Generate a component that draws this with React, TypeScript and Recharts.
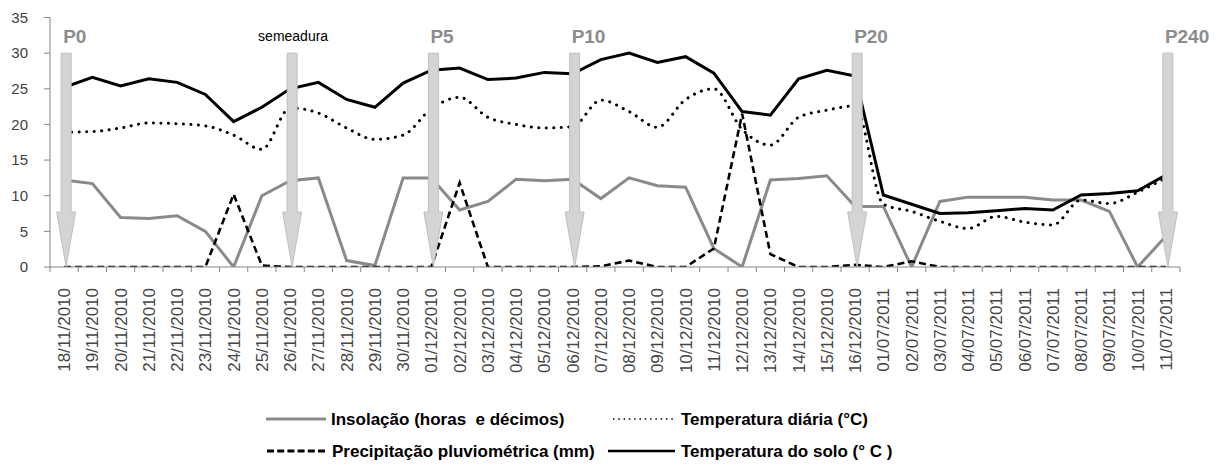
import React from 'react';
import { LineChart, Line, XAxis, YAxis, ReferenceLine } from 'recharts';

const dates = [
  '18/11/2010', '19/11/2010', '20/11/2010', '21/11/2010', '22/11/2010', '23/11/2010', '24/11/2010',
  '25/11/2010', '26/11/2010', '27/11/2010', '28/11/2010', '29/11/2010', '30/11/2010',
  '01/12/2010', '02/12/2010', '03/12/2010', '04/12/2010', '05/12/2010', '06/12/2010', '07/12/2010',
  '08/12/2010', '09/12/2010', '10/12/2010', '11/12/2010', '12/12/2010', '13/12/2010', '14/12/2010',
  '15/12/2010', '16/12/2010',
  '01/07/2011', '02/07/2011', '03/07/2011', '04/07/2011', '05/07/2011', '06/07/2011', '07/07/2011',
  '08/07/2011', '09/07/2011', '10/07/2011', '11/07/2011',
];

const insolacao = [
  12.2, 11.7, 6.95, 6.8, 7.2, 5.0, 0, 10.0, 12.1, 12.5, 0.9, 0.2, 12.5,
  12.5, 8.0, 9.2, 12.3, 12.1, 12.3, 9.6, 12.5, 11.4, 11.2, 2.6, 0, 12.2, 12.4, 12.8, 8.5,
  8.5, 0, 9.2, 9.8, 9.8, 9.8, 9.4, 9.4, 7.8, 0, 4.3,
];

const precipitacao = [
  0, 0, 0, 0, 0, 0, 10.2, 0.2, 0, 0, 0, 0, 0,
  0, 11.8, 0, 0, 0, 0, 0.1, 0.9, 0, 0, 2.6, 21.5, 1.8, 0, 0, 0.3,
  0, 0.8, 0, 0, 0, 0, 0, 0, 0, 0, 0,
];

const tempDiaria = [
  18.9, 19.0, 19.5, 20.2, 20.1, 19.8, 18.5, 16.5, 22.3, 21.6, 19.5, 17.9, 18.5,
  22.2, 23.8, 21.0, 20.0, 19.5, 19.7, 23.4, 21.8, 19.6, 23.5, 25.0, 19.3, 17.1, 21.0, 22.0, 22.6,
  8.8, 7.8, 6.4, 5.4, 7.1, 6.3, 5.9, 9.4, 8.9, 10.5, 12.5,
];

const tempSolo = [
  25.2, 26.6, 25.4, 26.4, 25.9, 24.2, 20.4, 22.4, 25.0, 25.9, 23.5, 22.4, 25.8,
  27.6, 27.9, 26.3, 26.5, 27.3, 27.1, 29.1, 30.0, 28.7, 29.5, 27.2, 21.8, 21.3, 26.4, 27.6, 26.8,
  10.1, 8.8, 7.5, 7.6, 7.9, 8.2, 8.0, 10.1, 10.3, 10.7, 12.9,
];

const yTicks = [0, 5, 10, 15, 20, 25, 30, 35];

const markers = [
  { date: '18/11/2010', label: 'P0', kind: 'phase' },
  { date: '26/11/2010', label: 'semeadura', kind: 'note' },
  { date: '01/12/2010', label: 'P5', kind: 'phase' },
  { date: '06/12/2010', label: 'P10', kind: 'phase' },
  { date: '16/12/2010', label: 'P20', kind: 'phase' },
  { date: '11/07/2011', label: 'P240', kind: 'phase' },
];
const arrowTopValue = 30;

const legendLabels = {
  insolacao: 'Insolação (horas  e décimos)',
  tempDiaria: 'Temperatura diária (°C)',
  precipitacao: 'Precipitação pluviométrica (mm)',
  tempSolo: 'Temperatura do solo (° C )',
};

const data = dates.map((d, i) => ({
  date: d,
  insolacao: insolacao[i],
  precipitacao: precipitacao[i],
  tempDiaria: tempDiaria[i],
  tempSolo: tempSolo[i],
}));

const W = 1217;
const H = 466;
const PLOT_LEFT = 50;
const PLOT_RIGHT = 1180;
const PLOT_TOP = 17.5;
const PLOT_BOTTOM = 267;
const BAND = (PLOT_RIGHT - PLOT_LEFT) / dates.length;
const FONT = '"Liberation Sans", Arial, Helvetica, sans-serif';
const AXIS = '#868686';

const XTick = (props: any) => {
  const { x, payload, index } = props;
  const ty = PLOT_BOTTOM + 21;
  return (
    <g>
      <line x1={x - BAND / 2} x2={x - BAND / 2} y1={PLOT_BOTTOM} y2={PLOT_BOTTOM + 5} stroke={AXIS} strokeWidth={1} />
      {index === dates.length - 1 ? (
        <line x1={x + BAND / 2} x2={x + BAND / 2} y1={PLOT_BOTTOM} y2={PLOT_BOTTOM + 5} stroke={AXIS} strokeWidth={1} />
      ) : null}
      <text
        x={x}
        y={ty}
        dy="0.36em"
        transform={`rotate(-90 ${x} ${ty})`}
        textAnchor="end"
        fontSize={17}
        fontFamily={FONT}
        fill="#454545"
      >
        {payload.value}
      </text>
    </g>
  );
};

const makeArrow = (label: string, kind: string) => (p: any) => {
  const cx = (p.x1 ?? 0) + 2;
  const top = Math.min(p.y1, p.y2);
  const tip = Math.max(p.y1, p.y2);
  const headStart = tip - 55;
  const sw = 5;
  const hw = 9.5;
  const d = `M${cx - sw},${top} L${cx + sw},${top} L${cx + sw},${headStart} L${cx + hw},${headStart} L${cx},${tip} L${cx - hw},${headStart} L${cx - sw},${headStart} Z`;
  return (
    <g>
      <path d={d} fill="#d4d4d4" stroke="#bfbfbf" strokeWidth={1} />
      {kind === 'phase' ? (
        <text x={cx - 3} y={top - 10} fontSize={19} fontWeight="bold" fontFamily={FONT} fill="#8c8c8c" textAnchor="start">
          {label}
        </text>
      ) : (
        <text x={cx + 1} y={top - 12} fontSize={14} fontFamily={FONT} fill="#000" textAnchor="middle">
          {label}
        </text>
      )}
    </g>
  );
};

const Legend2 = () => {
  const r1 = 419;
  const r2 = 451;
  const ts = { fontSize: 17, fontWeight: 'bold' as const, fontFamily: FONT, fill: '#000', style: { whiteSpace: 'pre' as const } };
  return (
    <svg width={W} height={H} style={{ position: 'absolute', left: 0, top: 0, pointerEvents: 'none' }}>
      <line x1={266} x2={326} y1={r1} y2={r1} stroke="#8a8a8a" strokeWidth={3} />
      <text x={331} y={r1 + 6} {...ts}>{legendLabels.insolacao}</text>
      <line x1={613} x2={673} y1={r1} y2={r1} stroke="#000" strokeWidth={1.6} strokeDasharray="1.5 3.8" />
      <text x={681} y={r1 + 6} {...ts}>{legendLabels.tempDiaria}</text>
      <line x1={267} x2={327} y1={r2} y2={r2} stroke="#000" strokeWidth={3} strokeDasharray="7 3.2" />
      <text x={332} y={r2 + 6} {...ts}>{legendLabels.precipitacao}</text>
      <line x1={608} x2={675} y1={r2} y2={r2} stroke="#000" strokeWidth={2.5} />
      <text x={681} y={r2 + 6} {...ts}>{legendLabels.tempSolo}</text>
    </svg>
  );
};

export default function App() {
  return (
    <div style={{ position: 'absolute', left: 0, top: 0, width: W, height: H, background: '#fff' }}>
      <LineChart
        width={W}
        height={H}
        data={data}
        margin={{ top: PLOT_TOP, right: W - PLOT_RIGHT, left: 0, bottom: 0 }}
      >
        <XAxis
          dataKey="date"
          interval={0}
          height={H - PLOT_BOTTOM}
          padding={{ left: BAND / 2, right: BAND / 2 }}
          axisLine={{ stroke: AXIS }}
          tickLine={false}
          tick={<XTick />}
        />
        <YAxis
          domain={[0, 35]}
          ticks={yTicks}
          interval={0}
          width={PLOT_LEFT}
          tickSize={6}
          tickMargin={16}
          axisLine={{ stroke: AXIS }}
          tickLine={{ stroke: AXIS }}
          tick={{ fill: '#404040', fontSize: 15, fontFamily: FONT }}
          allowDataOverflow
        />
        <Line dataKey="insolacao" type="linear" stroke="#8a8a8a" strokeWidth={3} dot={false} isAnimationActive={false} />
        <Line dataKey="precipitacao" type="linear" stroke="#000" strokeWidth={2.6} strokeDasharray="7 4" dot={false} isAnimationActive={false} />
        <Line dataKey="tempDiaria" type="monotone" stroke="#000" strokeWidth={3} strokeDasharray="0.1 7.4" strokeLinecap="round" dot={false} isAnimationActive={false} />
        <Line dataKey="tempSolo" type="linear" stroke="#000" strokeWidth={3} dot={false} isAnimationActive={false} />
        {markers.map((m) => (
          <ReferenceLine
            key={m.date}
            segment={[{ x: m.date, y: arrowTopValue }, { x: m.date, y: 0 }]}
            shape={makeArrow(m.label, m.kind)}
            ifOverflow="visible"
          />
        ))}
      </LineChart>
      <Legend2 />
    </div>
  );
}
